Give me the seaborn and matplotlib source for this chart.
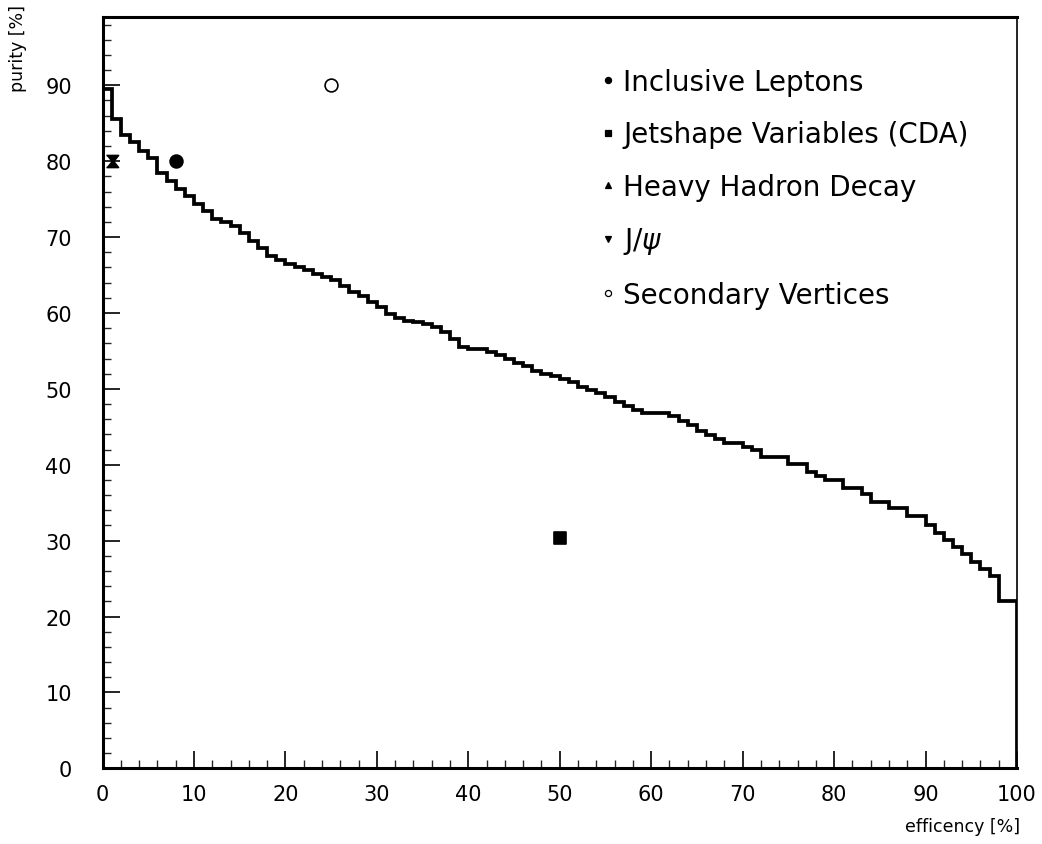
import numpy as np
import matplotlib
matplotlib.use("Agg")
import matplotlib.pyplot as plt
import seaborn as sns
import pandas as pd
from matplotlib.lines import Line2D

# ---- data -------------------------------------------------------------
bin_edges = np.arange(0, 101, 1)
purity_curve = [
    89.5, 85.6, 83.4, 82.5, 81.4, 80.4, 78.4, 77.4, 76.3, 75.4,
    74.3, 73.4, 72.4, 72.0, 71.4, 70.5, 69.5, 68.6, 67.5, 67.0,
    66.5, 66.1, 65.7, 65.2, 64.8, 64.4, 63.5, 62.8, 62.2, 61.5,
    60.8, 59.9, 59.3, 59.0, 58.8, 58.5, 58.1, 57.5, 56.6, 55.5,
    55.2, 55.2, 54.9, 54.4, 54.0, 53.4, 53.0, 52.4, 52.0, 51.7,
    51.3, 50.9, 50.3, 49.8, 49.4, 48.9, 48.3, 47.8, 47.2, 46.8,
    46.8, 46.8, 46.4, 45.8, 45.2, 44.5, 43.9, 43.4, 42.8, 42.8,
    42.3, 41.9, 41.0, 41.0, 41.0, 40.1, 40.1, 39.1, 38.5, 38.0,
    38.0, 37.0, 37.0, 36.1, 35.1, 35.1, 34.3, 34.3, 33.2, 33.2,
    32.0, 31.0, 30.1, 29.1, 28.2, 27.2, 26.2, 25.3, 22.1, 22.1,
]

methods = ["Inclusive Leptons", "Jetshape Variables (CDA)",
           "Heavy Hadron Decay", "J/$\\psi$", "Secondary Vertices"]
method_eff = [8, 50, 1, 1, 25]
method_pur = [80, 30.4, 80, 80, 90]

x_ticks = list(range(0, 101, 10))
y_ticks = list(range(0, 91, 10))

# ---- style ------------------------------------------------------------
sns.set_style("ticks")
plt.rcParams["font.family"] = ["DejaVu Sans"]
plt.rcParams["text.color"] = "black"
plt.rcParams["axes.labelcolor"] = "black"

fig = plt.figure(figsize=(10.42, 8.45), dpi=100)
W, H = 1042, 845
left, right, top, bottom = 102.5, 1017, 18, 769.3
ax = fig.add_axes([left / W, 1 - bottom / H, (right - left) / W, (bottom - top) / H])

# step histogram outline
ax.stairs(purity_curve, bin_edges, baseline=0, color="black", linewidth=2.7, fill=False)

# markers for the individual methods
hour_down = [(-1, 1), (1, 1), (0, -0.25)]
hour_up = [(-1, -1), (1, -1), (0, 0.25)]
plot_markers = ["o", "s", hour_up, hour_down, "o"]
plot_sizes = [85, 80, 75, 75, 85]
face = ["black", "black", "black", "black", "white"]
df = pd.DataFrame({"eff": method_eff, "pur": method_pur, "method": methods})
for i, row in df.iterrows():
    sns.scatterplot(x=[row["eff"]], y=[row["pur"]], marker=plot_markers[i],
                    s=plot_sizes[i], color=face[i], edgecolor="black",
                    linewidth=1.2, ax=ax, legend=False, zorder=5)

# legend
leg_markers = ["o", "s", "^", "v", "o"]
handles = [Line2D([], [], linestyle="none", marker=m, markersize=4.4,
                  markerfacecolor=f, markeredgecolor="black", markeredgewidth=0.9)
           for m, f in zip(leg_markers, face)]
ylim_top = 99
ax.legend(handles, methods, loc="upper left",
          bbox_to_anchor=((601 - left) / (right - left), (bottom - 69) / (bottom - top)),
          frameon=False, fontsize=20, handlelength=0.5, handletextpad=0.3,
          labelspacing=0.88, borderpad=0, borderaxespad=0, labelcolor="black")

# axes
ax.set_xlim(0, 100)
ax.set_ylim(0, ylim_top)
ax.set_xticks(x_ticks)
ax.set_xticklabels([str(v) for v in x_ticks])
ax.set_yticks(y_ticks)
ax.set_yticklabels([str(v) for v in y_ticks])
ax.set_xticks(np.arange(0, 101, 2), minor=True)
ax.set_yticks(np.arange(0, 99, 2), minor=True)
ax.tick_params(axis="both", which="major", direction="in", length=12, width=1.2,
               labelsize=15, colors="black")
ax.tick_params(axis="both", which="minor", direction="in", length=6, width=1.0)
ax.tick_params(axis="x", which="major", pad=11)
ax.tick_params(axis="y", which="major", pad=22)
ax.tick_params(top=False, right=False, which="both")

for side in ["left", "bottom", "top"]:
    ax.spines[side].set_linewidth(2.2)
    ax.spines[side].set_color("black")
ax.spines["right"].set_linewidth(1.2)
ax.spines["right"].set_color("black")
ax.spines["top"].set_visible(True)
ax.spines["right"].set_visible(True)

ax.set_ylabel("purity [%]", fontsize=12.5)
ax.yaxis.set_label_coords((18 - left) / (right - left), (bottom - 48) / (bottom - top))
ax.yaxis.label.set_va("center")
ax.set_xlabel("efficency [%]", fontsize=12.5)
ax.xaxis.set_label_coords((963 - left) / (right - left), (bottom - 827) / (bottom - top))
ax.xaxis.label.set_va("center")

fig.savefig("out.png", dpi=100, facecolor="white")
